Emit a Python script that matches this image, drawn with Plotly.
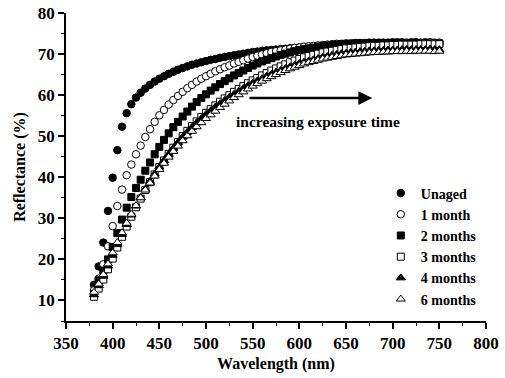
import plotly.graph_objects as go

wavelength = list(range(380, 755, 5))

unaged = [13.8, 18.3, 24.1, 31.8, 39.9, 46.6, 52.3, 55.6, 57.8, 59.4, 60.6, 61.6, 62.5, 63.3, 64.0,
          64.6, 65.2, 65.7, 66.2, 66.6, 67.0, 67.4, 67.7, 68.0, 68.3, 68.6, 68.8, 69.1, 69.3, 69.5,
          69.7, 69.9, 70.1, 70.3, 70.5, 70.6, 70.8, 70.9, 71.0, 71.1, 71.2, 71.3, 71.4, 71.5, 71.6,
          71.7, 71.7, 71.8, 71.9, 71.9, 72.0, 72.0, 72.1, 72.1, 72.2, 72.2, 72.3, 72.3, 72.3, 72.4,
          72.4, 72.4, 72.4, 72.5, 72.5, 72.5, 72.5, 72.5, 72.4, 72.5, 72.5, 72.4, 72.5, 72.5, 72.4]
month1 = [12.5, 15.3, 18.8, 23.2, 28.1, 33.0, 37.0, 40.5, 43.1, 45.6, 47.7, 49.8, 51.7, 53.5, 55.1,
          56.4, 57.7, 58.8, 59.8, 60.8, 61.7, 62.5, 63.3, 64.0, 64.6, 65.2, 65.8, 66.3, 66.8, 67.2,
          67.7, 68.1, 68.5, 68.9, 69.3, 69.6, 69.9, 70.2, 70.5, 70.7, 70.9, 71.1, 71.3, 71.5, 71.6,
          71.8, 71.9, 72.0, 72.1, 72.2, 72.3, 72.4, 72.5, 72.5, 72.6, 72.6, 72.7, 72.7, 72.7, 72.8,
          72.8, 72.8, 72.8, 72.8, 72.9, 72.9, 72.9, 72.8, 72.9, 72.9, 72.8, 72.9, 72.9, 72.8, 72.8]
month2 = [11.6, 14.9, 17.3, 20.0, 23.0, 26.4, 29.7, 32.6, 35.2, 37.4, 39.4, 41.6, 43.6, 45.6, 47.4,
          49.1, 50.7, 52.2, 53.5, 54.8, 56.0, 57.2, 58.3, 59.3, 60.2, 61.1, 61.9, 62.7, 63.4, 64.1,
          64.8, 65.4, 66.0, 66.6, 67.2, 67.7, 68.2, 68.6, 69.0, 69.4, 69.8, 70.1, 70.4, 70.7, 71.0,
          71.2, 71.4, 71.6, 71.8, 72.0, 72.1, 72.2, 72.3, 72.4, 72.5, 72.5, 72.6, 72.6, 72.6, 72.7,
          72.7, 72.7, 72.7, 72.7, 72.7, 72.7, 72.7, 72.6, 72.7, 72.7, 72.6, 72.7, 72.6, 72.6, 72.6]
month3 = [10.9, 12.9, 15.1, 17.6, 20.2, 22.9, 25.5, 28.0, 30.4, 32.7, 34.8, 36.9, 38.8, 40.7, 42.5,
          44.1, 45.7, 47.2, 48.6, 50.0, 51.3, 52.5, 53.6, 54.7, 55.7, 56.6, 57.5, 58.4, 59.2, 60.0,
          60.8, 61.5, 62.2, 62.9, 63.6, 64.2, 64.8, 65.4, 66.0, 66.5, 67.0, 67.5, 68.0, 68.4, 68.8,
          69.2, 69.5, 69.8, 70.1, 70.4, 70.6, 70.8, 71.0, 71.2, 71.4, 71.5, 71.6, 71.7, 71.8, 71.9,
          72.0, 72.0, 72.1, 72.1, 72.2, 72.2, 72.3, 72.3, 72.3, 72.3, 72.4, 72.4, 72.4, 72.4, 72.4]
month4 = [11.4, 13.6, 15.9, 18.4, 21.0, 23.6, 26.1, 28.5, 30.8, 33.0, 35.1, 37.1, 39.0, 40.8, 42.5,
          44.1, 45.6, 47.1, 48.5, 49.8, 51.0, 52.2, 53.3, 54.3, 55.3, 56.2, 57.1, 57.9, 58.7, 59.5,
          60.2, 60.9, 61.6, 62.3, 62.9, 63.5, 64.0, 64.6, 65.1, 65.6, 66.0, 66.5, 66.9, 67.3, 67.7,
          68.0, 68.3, 68.6, 68.9, 69.2, 69.4, 69.7, 69.9, 70.1, 70.2, 70.4, 70.5, 70.6, 70.7, 70.8,
          70.8, 70.9, 70.9, 71.0, 71.0, 71.0, 71.1, 71.1, 71.1, 71.1, 71.1, 71.1, 71.2, 71.1, 71.1]
month6 = [12.0, 14.0, 16.3, 18.9, 21.6, 24.1, 26.5, 28.8, 31.0, 33.1, 35.0, 36.9, 38.6, 40.3, 41.9,
          43.4, 44.9, 46.3, 47.6, 48.9, 50.1, 51.2, 52.3, 53.3, 54.3, 55.2, 56.1, 57.0, 57.8, 58.6,
          59.4, 60.1, 60.8, 61.5, 62.2, 62.8, 63.4, 64.0, 64.5, 65.0, 65.5, 66.0, 66.4, 66.8, 67.2,
          67.6, 67.9, 68.2, 68.5, 68.8, 69.0, 69.2, 69.4, 69.6, 69.8, 69.9, 70.0, 70.1, 70.2, 70.3,
          70.4, 70.4, 70.5, 70.5, 70.6, 70.6, 70.6, 70.7, 70.6, 70.7, 70.7, 70.7, 70.7, 70.6, 70.7]

series_names = ["Unaged", "1 month", "2 months", "3 months", "4 months", "6 months"]
series_values = [unaged, month1, month2, month3, month4, month6]
symbols = ["circle", "circle", "square", "square", "triangle-up", "triangle-up"]
fills = ["black", "white", "black", "white", "black", "white"]
sizes = [7.5, 7.5, 7, 7, 8, 8]

FONT = "Liberation Serif"

fig = go.Figure()
for name, vals, sym, fill, sz in zip(series_names, series_values, symbols, fills, sizes):
    fig.add_trace(go.Scatter(
        x=wavelength, y=vals, mode="markers", name=name,
        marker=dict(symbol=sym, size=sz, color=fill, line=dict(color="black", width=1)),
    ))

fig.add_annotation(x=678, y=59.3, ax=545, ay=59.3, xref="x", yref="y", axref="x", ayref="y",
                   text="", showarrow=True, arrowhead=2, arrowsize=1.1, arrowwidth=2.5,
                   arrowcolor="black")
fig.add_annotation(x=620, y=53.5, xref="x", yref="y", text="increasing exposure time",
                   showarrow=False, font=dict(family=FONT, size=15.5, color="black", weight="bold"))

axis_common = dict(showline=True, linecolor="black", linewidth=1.5, mirror=False,
                   ticks="outside", ticklen=6, tickwidth=1.5, tickcolor="black",
                   showgrid=False, zeroline=False, automargin=False,
                   tickfont=dict(family=FONT, size=17, color="black", weight="bold"))

fig.update_layout(
    width=505, height=378,
    margin=dict(l=66, r=19, t=13, b=57),
    paper_bgcolor="white", plot_bgcolor="white",
    font=dict(family=FONT, color="black"),
    xaxis=dict(range=[350, 800], dtick=50, tick0=350,
               minor=dict(dtick=25, ticks="outside", ticklen=3.5, tickwidth=1.2, tickcolor="black"),
               title=dict(text="Wavelength (nm)", standoff=6,
                          font=dict(family=FONT, size=16, color="black", weight="bold")),
               **axis_common),
    yaxis=dict(range=[5, 80], dtick=10, tick0=0,
               minor=dict(dtick=5, ticks="outside", ticklen=3.5, tickwidth=1.2, tickcolor="black"),
               title=dict(text="Reflectance (%)", standoff=8,
                          font=dict(family=FONT, size=16, color="black", weight="bold")),
               **axis_common),
    legend=dict(x=0.7495, y=0.466, xanchor="left", yanchor="top", bgcolor="rgba(0,0,0,0)",
                font=dict(family=FONT, size=14, color="black", weight="bold"),
                itemsizing="trace"),
    showlegend=True,
)

fig.write_html("out.html")
